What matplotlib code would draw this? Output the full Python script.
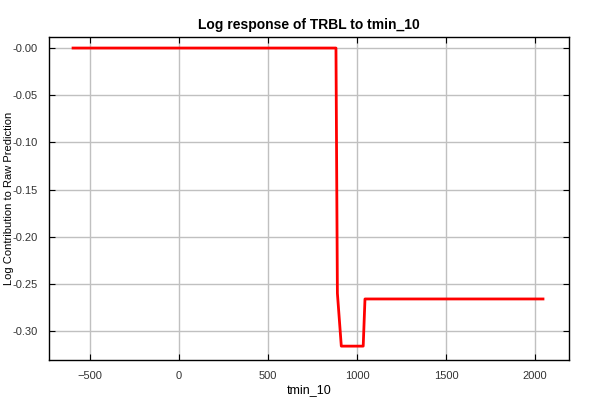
import matplotlib.pyplot as plt

plt.rcParams['font.family'] = ['Liberation Sans', 'DejaVu Sans']

# breakpoints of the response curve
tmin_10 = [-595, 882, 890, 912, 1035, 1045, 2045]
log_contrib = [0.0, 0.0, -0.26, -0.316, -0.316, -0.266, -0.266]

fig = plt.figure(figsize=(6, 4), dpi=100)
ax = fig.add_axes([0.0817, 0.1, 0.8666, 0.8075])

ax.plot(tmin_10, log_contrib, color='#ff0000', linewidth=2)

ax.set_xlim(-730, 2191)
ax.set_ylim(-0.3307, 0.0117)
ax.set_xticks([-500, 0, 500, 1000, 1500, 2000])
ax.set_yticks([0, -0.05, -0.10, -0.15, -0.20, -0.25, -0.30])
ax.set_yticklabels(['-0.00', '-0.05', '-0.10', '-0.15', '-0.20', '-0.25', '-0.30'])
ax.grid(True, color='#c0c0c0', linewidth=1)
ax.set_axisbelow(True)
ax.tick_params(direction='in', top=True, right=True, labelsize=8, length=4,
               pad=8, labelcolor='#333333')
for s in ax.spines.values():
    s.set_linewidth(1)

ax.set_title('Log response of TRBL to tmin_10', fontsize=10, fontweight='bold')
ax.set_xlabel('tmin_10', fontsize=9, labelpad=2)
ax.set_ylabel('Log Contribution to Raw Prediction', fontsize=8)
ax.yaxis.set_label_coords(-0.068, 0.5)

fig.savefig('out.png', dpi=100)
